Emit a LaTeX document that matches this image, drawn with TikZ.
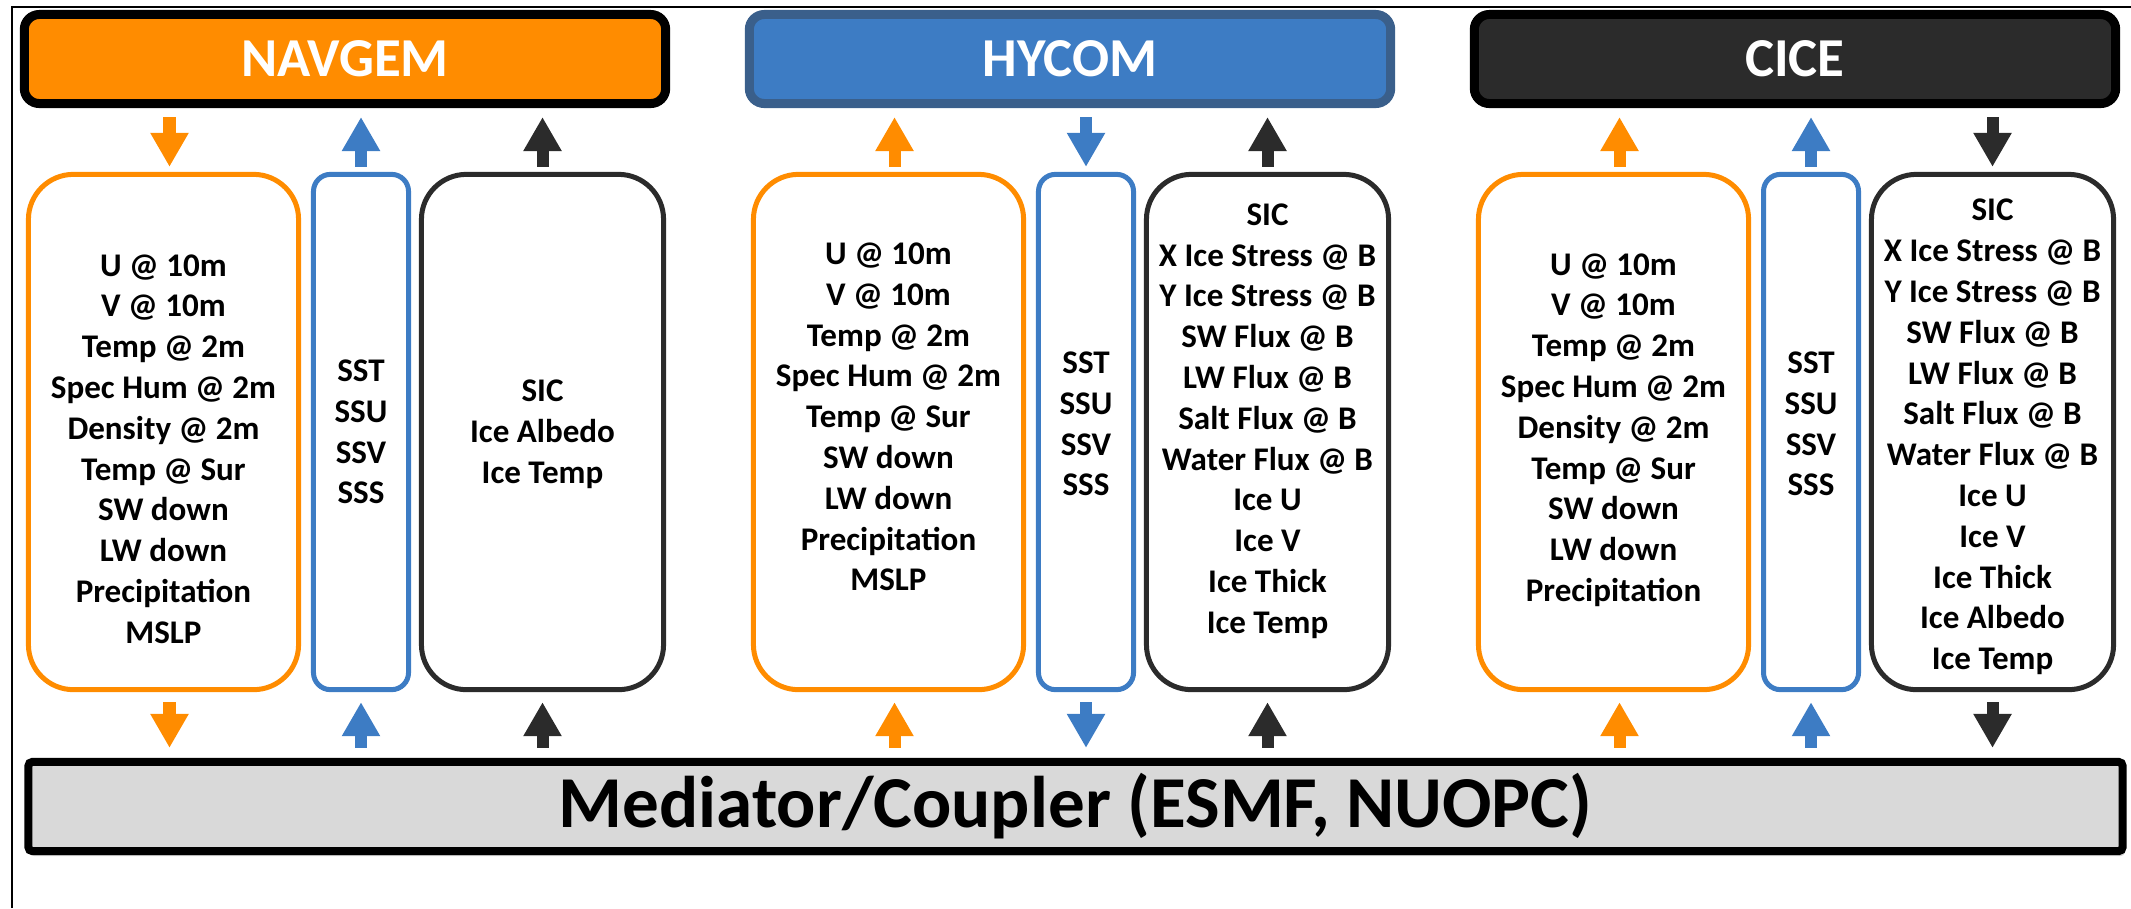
\documentclass[tikz,border=0pt]{standalone}
\usepackage{fontspec}
\setmainfont{Carlito}
\usetikzlibrary{arrows.meta,calc,shadows}

\definecolor{atmorange}{HTML}{FF8C00}
\definecolor{ocnblue}{HTML}{3D7CC4}
\definecolor{ocnedge}{HTML}{3A5F8B}
\definecolor{icegray}{HTML}{2B2B2B}
\definecolor{medfill}{HTML}{D9D9D9}

\begin{document}
\begin{tikzpicture}[x=0.01cm, y=-0.01cm,
    model/.style={rounded corners=0.15cm, line width=0.09cm, minimum width=6.41cm, minimum height=0.89cm, text=white, font=\fontsize{15.6}{18}\selectfont\bfseries},
    field/.style={rounded corners=0.45cm, line width=0.05cm, minimum height=5.15cm},
    names/.style={align=center, inner sep=0pt, font=\fontsize{9.4}{11.6}\selectfont\bfseries},
    flowdown/.style={line width=0.12cm, -{Triangle[width=0.36cm, length=0.34cm]}},
    flowup/.style={line width=0.12cm, {Triangle[width=0.36cm, length=0.34cm]}-}]
  \useasboundingbox (0,0) rectangle (2131,908);
  \draw[line width=0.02cm] (12,908) -- (12,7) -- (2131,7);

  % model components
  \node[model, draw=black, fill=atmorange] (nav-head) at (345,59) {NAVGEM};
  \node[model, draw=ocnedge, fill=ocnblue] (hyc-head) at (1070,59) {HYCOM};
  \node[model, draw=black, fill=icegray] (cice-head) at (1795,59) {CICE};

  % mediator
  \node[draw, line width=0.08cm, fill=medfill, rounded corners=0.04cm, minimum width=20.93cm, minimum height=0.79cm,
    drop shadow={shadow xshift=0.02cm, shadow yshift=-0.05cm, opacity=0.35},
    font=\fontsize{20.8}{24}\selectfont\bfseries] (med) at (1075.5,806.5) {Mediator/Coupler (ESMF, NUOPC)};

  % exchanged fields
  \foreach \g/\x in {nav/20, hyc/745, cice/1470} {
    \node[field, draw=atmorange, minimum width=2.70cm] (\g-atm) at (\x+143.5,432) {};
    \node[field, draw=ocnblue, rounded corners=0.17cm, minimum width=0.95cm] (\g-ocn) at (\x+341,432) {};
    \node[field, draw=icegray, minimum width=2.42cm] (\g-ice) at (\x+522.5,432) {};
  }

  \node[names, yshift=-0.17cm] (nav-atm-txt) at (nav-atm) {U @ 10m\\V @ 10m\\Temp @ 2m\\Spec Hum @ 2m\\Density @ 2m\\Temp @ Sur\\SW down\\LW down\\Precipitation\\MSLP};
  \node[names] (nav-ocn-txt) at (nav-ocn) {SST\\SSU\\SSV\\SSS};
  \node[names, yshift=-0.02cm] (nav-ice-txt) at (nav-ice) {SIC\\Ice Albedo\\Ice Temp};

  \node[names, yshift=0.15cm] (hyc-atm-txt) at (hyc-atm) {U @ 10m\\V @ 10m\\Temp @ 2m\\Spec Hum @ 2m\\Temp @ Sur\\SW down\\LW down\\Precipitation\\MSLP};
  \node[names, yshift=0.08cm] (hyc-ocn-txt) at (hyc-ocn) {SST\\SSU\\SSV\\SSS};
  \node[names, yshift=0.11cm] (hyc-ice-txt) at (hyc-ice) {SIC\\X Ice Stress @ B\\Y Ice Stress @ B\\SW Flux @ B\\LW Flux @ B\\Salt Flux @ B\\Water Flux @ B\\Ice U\\Ice V\\Ice Thick\\Ice Temp};

  \node[names, yshift=0.02cm] (cice-atm-txt) at (cice-atm) {U @ 10m\\V @ 10m\\Temp @ 2m\\Spec Hum @ 2m\\Density @ 2m\\Temp @ Sur\\SW down\\LW down\\Precipitation};
  \node[names, yshift=0.08cm] (cice-ocn-txt) at (cice-ocn) {SST\\SSU\\SSV\\SSS};
  \node[names, yshift=-0.05cm] (cice-ice-txt) at (cice-ice) {SIC\\X Ice Stress @ B\\Y Ice Stress @ B\\SW Flux @ B\\LW Flux @ B\\Salt Flux @ B\\Water Flux @ B\\Ice U\\Ice V\\Ice Thick\\Ice Albedo\\Ice Temp};

  % arrows to and from the mediator
  \foreach \g/\a/\o/\i in {nav/flowdown/flowup/flowup, hyc/flowup/flowdown/flowup, cice/flowup/flowup/flowdown} {
    \draw[\a, atmorange, shorten <=0.09cm, shorten >=0.05cm] ($(\g-atm.north |- \g-head.south)+(6,0)$) -- ($(\g-atm.north)+(6,0)$);
    \draw[\a, atmorange, shorten <=0.1cm, shorten >=0.1cm] ($(\g-atm.south)+(6,0)$) -- ($(\g-atm.south |- med.north)+(6,0)$);
    \draw[\o, ocnblue, shorten <=0.09cm, shorten >=0.05cm] (\g-ocn.north |- \g-head.south) -- (\g-ocn.north);
    \draw[\o, ocnblue, shorten <=0.1cm, shorten >=0.1cm] (\g-ocn.south) -- (\g-ocn.south |- med.north);
    \draw[\i, icegray, shorten <=0.09cm, shorten >=0.05cm] (\g-ice.north |- \g-head.south) -- (\g-ice.north);
    \draw[\i, icegray, shorten <=0.1cm, shorten >=0.1cm] (\g-ice.south) -- (\g-ice.south |- med.north);
  }
\end{tikzpicture}
\end{document}
